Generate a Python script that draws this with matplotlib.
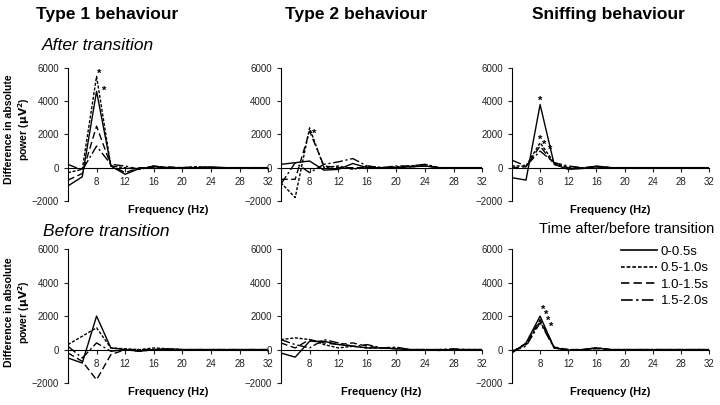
import matplotlib
matplotlib.use('Agg')
import matplotlib.pyplot as plt
from matplotlib.lines import Line2D

plt.rcParams['font.family'] = ['Liberation Sans', 'DejaVu Sans']

# ── data ─────────────────────────────────────────────────────────────────────
freq = [4, 6, 8, 10, 12, 14, 16, 18, 20, 22, 24, 26, 28, 30, 32]
windows = ['0-0.5s', '0.5-1.0s', '1.0-1.5s', '1.5-2.0s']
behaviours = ['Type 1 behaviour', 'Type 2 behaviour', 'Sniffing behaviour']

after_type1 = [
    [-1100, -550, 4600, 100, -400, -50, 50, 0, 0, 0, 50, 0, 0, 0, 0],
    [-300, -100, 5500, 100, 0, -100, 100, 0, 0, 50, 0, 0, 0, 0, 0],
    [-750, -350, 2500, 150, -300, 0, 0, 50, 0, 0, 0, 0, 0, 0, 0],
    [200, -150, 1300, 200, 100, -100, 100, 0, 0, 50, 0, 0, 0, 0, 0],
]
after_type2 = [
    [200, 300, 400, -150, -100, 250, 0, 0, 0, 50, 100, 0, 0, 0, 0],
    [-900, -1800, 2400, 0, 100, -100, 100, 0, 50, 100, 200, 0, 0, 0, 0],
    [-700, -700, 2200, 100, 0, 0, 0, 0, 0, 50, 100, 0, 0, 0, 0],
    [-1000, 300, -300, 200, 350, 550, 100, 0, 100, 100, 200, 0, 0, 0, 0],
]
after_sniff = [
    [-600, -750, 3800, 200, -100, -50, 100, 0, 0, 0, 0, 0, 0, 0, 0],
    [100, 100, 1500, 300, 0, -50, 50, 0, 0, 0, 0, 0, 0, 0, 0],
    [0, 50, 1300, 200, 0, 0, 50, 0, 0, 0, 0, 0, 0, 0, 0],
    [450, 100, 1000, 300, 100, 0, 50, 0, 0, 0, 0, 0, 0, 0, 0],
]
before_type1 = [
    [-500, -800, 2000, 100, 0, -100, 0, 50, 0, 0, 0, 0, 0, 0, 0],
    [300, 800, 1300, 100, 50, 0, 100, 50, 0, 0, 0, 0, 0, 0, 0],
    [-200, -700, -1800, -300, 0, -100, 0, 0, 0, 0, 0, 0, 0, 0, 0],
    [200, -500, 400, -100, 0, 0, 0, 0, 0, 0, 0, 0, 0, 0, 0],
]
before_type2 = [
    [-200, -450, 500, 500, 300, 200, 100, 100, 50, 0, 0, 0, 0, 0, 0],
    [600, 700, 600, 300, 100, 200, 100, 100, 100, 0, 0, 0, 0, 0, 0],
    [400, 100, 600, 400, 300, 400, 200, 100, 50, 0, 0, -50, 0, 0, 0],
    [600, 300, 100, 600, 400, 200, 300, 100, 150, 0, 0, 0, 50, 0, 0],
]
before_sniff = [
    [-200, 400, 2000, 100, -50, 0, 100, 0, 0, 0, 0, 0, 0, 0, 0],
    [-100, 300, 1700, 100, 0, 0, 100, 0, 0, 0, 0, 0, 0, 0, 0],
    [-150, 350, 1800, 150, 0, 0, 50, 0, 0, 0, 0, 0, 0, 0, 0],
    [-100, 200, 1600, 100, 0, 0, 100, 0, 0, 0, 0, 0, 0, 0, 0],
]

# significance stars (freq, value)
stars_after = [[(8.3, 5650), (9.1, 4650)], [(8.7, 2050)],
               [(8.0, 4050), (8.0, 1650), (8.6, 1400), (9.4, 1100)]]
stars_before = [[], [], [(8.4, 2400), (8.8, 2050), (9.2, 1700), (9.6, 1350)]]

styles = ['-', (0, (2.2, 1.2)), (0, (5, 2.5)), (0, (7, 2, 1.5, 2))]

# ── figure ───────────────────────────────────────────────────────────────────
fig = plt.figure(figsize=(7.2, 4.05), dpi=100)
lefts = [0.0944, 0.390, 0.711]
widths = [0.278, 0.280, 0.274]
rows = [(0.504, 0.328), (0.054, 0.331)]
panels = [[after_type1, after_type2, after_sniff],
          [before_type1, before_type2, before_sniff]]
stars = [stars_after, stars_before]

axes = []
for r, (b, h) in enumerate(rows):
    for c in range(3):
        ax = fig.add_axes([lefts[c], b, widths[c], h])
        for s, ls in zip(panels[r][c], styles):
            ax.plot(freq, s, color='black', linestyle=ls, linewidth=1.0)
        for (x, y) in stars[r][c]:
            ax.text(x, y, '*', ha='center', va='center', fontsize=8,
                    fontweight='bold')
        ax.set_xlim(4, 32)
        ax.set_ylim(-2000, 6000)
        ax.set_xticks(range(8, 33, 4))
        ax.set_yticks([-2000, 0, 2000, 4000, 6000])
        ax.spines['top'].set_visible(False)
        ax.spines['right'].set_visible(False)
        ax.spines['bottom'].set_position(('data', 0))
        ax.spines['left'].set_linewidth(0.8)
        ax.spines['bottom'].set_linewidth(0.8)
        ax.tick_params(labelsize=7, length=3, width=0.8, colors='#222222')
        ax.set_facecolor('none')
        axes.append(ax)

# column titles
for c, name in enumerate(behaviours):
    cx = [107, 356, 608][c] / 720
    fig.text(cx, 1 - 15 / 405, name, ha='center', va='center',
             fontsize=12.5, fontweight='bold')

fig.text(42 / 720, 1 - 46 / 405, 'After transition', ha='left', va='center',
         fontsize=12.5, style='italic')
fig.text(43 / 720, 1 - 232 / 405, 'Before transition', ha='left', va='center',
         fontsize=12.5, style='italic')

# y label, two centred lines
for yc in (129, 312):
    fig.text(9 / 720, 1 - yc / 405, 'Difference in absolute', rotation=90,
             ha='center', va='center', fontsize=7.6, fontweight='bold')
    fig.text(24 / 720, 1 - yc / 405, 'power ($\\mathbf{\\mu V^2}$)',
             rotation=90, ha='center', va='center', fontsize=7.6,
             fontweight='bold')

for i in (0, 2, 3, 4, 5):
    axes[i].set_xlabel('Frequency (Hz)', fontsize=8, fontweight='bold',
                       labelpad=13)

fig.text(714 / 720, 1 - 229 / 405, 'Time after/before transition',
         ha='right', va='center', fontsize=10.5)
handles = [Line2D([], [], color='black', linestyle=ls, linewidth=1.2)
           for ls in styles]
leg = axes[5].legend(handles, windows, loc='upper right',
                     bbox_to_anchor=(1.025, 1.065), frameon=False, fontsize=9.5,
                     handlelength=2.7, handletextpad=0.3,
                     labelspacing=0.32, borderaxespad=0)

fig.savefig('out.png', dpi=100, facecolor='white')
